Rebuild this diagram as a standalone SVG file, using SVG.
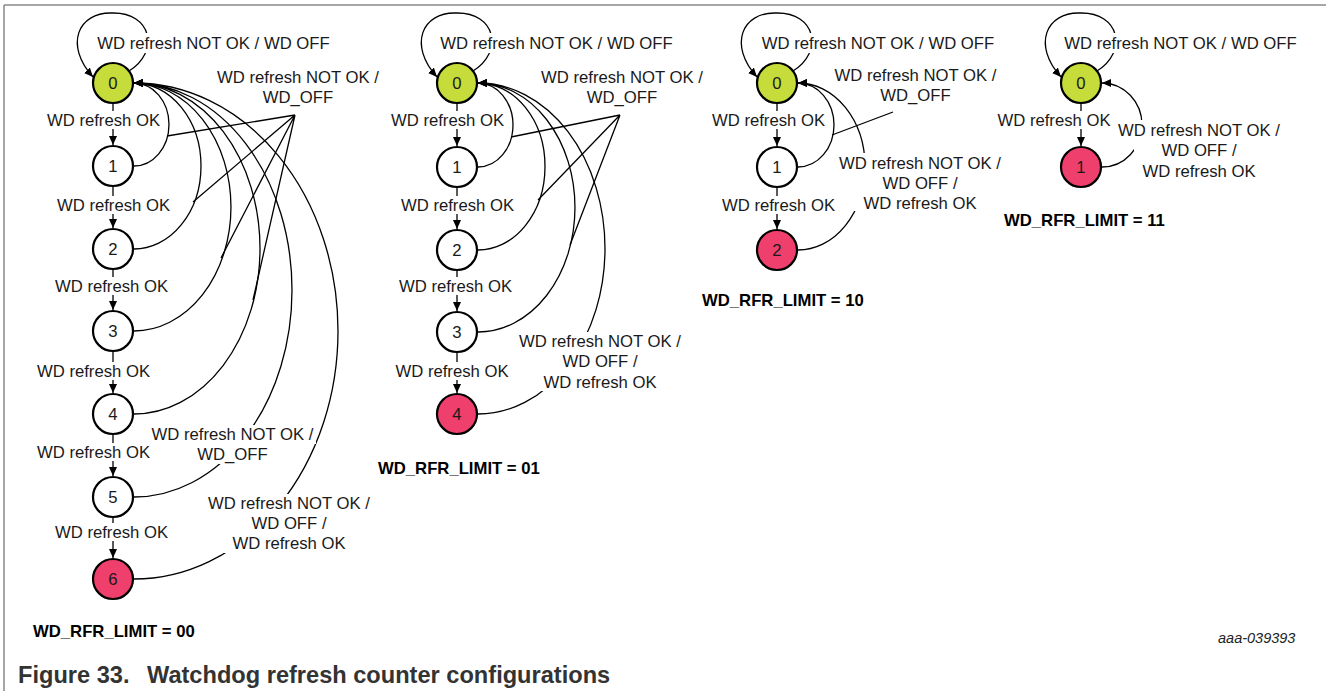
<svg xmlns="http://www.w3.org/2000/svg" width="1326" height="691" viewBox="0 0 1326 691">
<defs>
<marker id="ah" markerWidth="9" markerHeight="8" refX="9" refY="4" orient="auto" markerUnits="userSpaceOnUse"><path d="M0,0 L9,4 L0,8 z" fill="#000"/></marker>
</defs>
<style>
.t{font-family:"Liberation Sans",Arial,sans-serif;font-size:16.7px;fill:#1a1a1a;text-anchor:middle}
.b{font-weight:bold;text-anchor:start;fill:#000}
.c{fill:none;stroke:#000;stroke-width:1.3}
.a{marker-end:url(#ah)}
.bg{fill:#fff}
.n{stroke:#000;stroke-width:2.2;fill:#fff}
.g{fill:#c5dc3a}
.r{fill:#ef3f6c}
.cap{font-family:"Liberation Sans",Arial,sans-serif;font-size:23.6px;font-weight:bold;fill:#333}
.id{font-family:"Liberation Sans",Arial,sans-serif;font-size:14.5px;font-style:italic;fill:#222}
</style>
<rect width="1326" height="691" fill="#fff"/>
<path d="M4 5 H1326 M4 5 V691" stroke="#8a8a8a" stroke-width="1.5" fill="none"/>

<g id="connectors">
  <!-- Diagram 00 -->
  <path class="c a" d="M129 71 C160 52 152 12 112 13 C78 12 64 45 93 77"/>
  <path class="c a" d="M113 104 V145"/>
  <path class="c a" d="M113 187 V228"/>
  <path class="c a" d="M113 270 V310"/>
  <path class="c a" d="M113 352 V393"/>
  <path class="c a" d="M113 435 V476"/>
  <path class="c a" d="M113 518 V558"/>
  <path class="c a" d="M134 166 A35 41.5 0 0 0 134 83"/>
  <path class="c a" d="M134 249 A67 83 0 0 0 134 83"/>
  <path class="c a" d="M134 331 A97 124 0 0 0 134 83"/>
  <path class="c a" d="M134 414 A126 165.5 0 0 0 134 83"/>
  <path class="c a" d="M134 497 A158 207 0 0 0 134 83"/>
  <path class="c a" d="M134 579 A204 248 0 0 0 134 83"/>
  <path class="c" d="M295 115 L167 136 M295 115 L193 202 M295 115 L221 258 M295 115 L253 300"/>
  <!-- Diagram 01 -->
  <path class="c a" d="M473 71 C504 52 496 12 456 13 C422 12 408 45 437 77"/>
  <path class="c a" d="M457 104 V146"/>
  <path class="c a" d="M457 188 V229"/>
  <path class="c a" d="M457 271 V311"/>
  <path class="c a" d="M457 353 V393"/>
  <path class="c a" d="M478 167 A35 42 0 0 0 478 83"/>
  <path class="c a" d="M478 250 A67 83.5 0 0 0 478 83"/>
  <path class="c a" d="M478 332 A97 124.5 0 0 0 478 83"/>
  <path class="c a" d="M478 414 A127 165.5 0 0 0 478 83"/>
  <path class="c" d="M620 115 L511 137 M620 115 L538 200 M620 115 L570 245"/>
  <!-- Diagram 10 -->
  <path class="c a" d="M793 71 C824 52 816 12 776 13 C742 12 728 45 757 77"/>
  <path class="c a" d="M777 104 V146"/>
  <path class="c a" d="M777 188 V229"/>
  <path class="c a" d="M798 167 A36 42 0 0 0 798 83"/>
  <path class="c a" d="M798 250 A67 83.5 0 0 0 798 83"/>
  <path class="c" d="M893 112 L832 135"/>
  <!-- Diagram 11 -->
  <path class="c a" d="M1097 71 C1128 52 1120 12 1080 13 C1046 12 1032 45 1061 77"/>
  <path class="c a" d="M1081 104 V146"/>
  <path class="c a" d="M1102 167 A40 42 0 0 0 1102 83"/>
</g>

<g id="labels">
  <!-- Diagram 00 -->
  <rect class="bg" x="95" y="33" width="237" height="20"/>
  <text class="t" x="213.5" y="49">WD refresh NOT OK / WD OFF</text>
  <rect class="bg" x="215" y="68" width="166" height="18"/>
  <rect class="bg" x="261" y="87" width="74" height="19"/>
  <text class="t" x="298" y="83">WD refresh NOT OK /</text>
  <text class="t" x="298" y="103">WD_OFF</text>
  <rect class="bg" x="45" y="111" width="117" height="18"/>
  <text class="t" x="103.5" y="126">WD refresh OK</text>
  <rect class="bg" x="55" y="196" width="117" height="18"/>
  <text class="t" x="113.5" y="211">WD refresh OK</text>
  <rect class="bg" x="53" y="277" width="117" height="18"/>
  <text class="t" x="111.5" y="292">WD refresh OK</text>
  <rect class="bg" x="35" y="362" width="117" height="18"/>
  <text class="t" x="93.5" y="377">WD refresh OK</text>
  <rect class="bg" x="35" y="443" width="117" height="18"/>
  <text class="t" x="93.5" y="458">WD refresh OK</text>
  <rect class="bg" x="53" y="523" width="117" height="18"/>
  <text class="t" x="111.5" y="538">WD refresh OK</text>
  <rect class="bg" x="150" y="425" width="166" height="19"/>
  <rect class="bg" x="195" y="444" width="75" height="20"/>
  <text class="t" x="232.5" y="440">WD refresh NOT OK /</text>
  <text class="t" x="232.5" y="460">WD_OFF</text>
  <rect class="bg" x="206" y="494" width="166" height="59"/>
  <text class="t" x="289" y="509">WD refresh NOT OK /</text>
  <text class="t" x="289" y="529">WD OFF /</text>
  <text class="t" x="289" y="549">WD refresh OK</text>
  <!-- Diagram 01 -->
  <rect class="bg" x="438" y="33" width="237" height="20"/>
  <text class="t" x="556.5" y="49">WD refresh NOT OK / WD OFF</text>
  <rect class="bg" x="539" y="68" width="166" height="18"/>
  <rect class="bg" x="585" y="87" width="74" height="19"/>
  <text class="t" x="622" y="83">WD refresh NOT OK /</text>
  <text class="t" x="622" y="103">WD_OFF</text>
  <rect class="bg" x="389" y="111" width="117" height="18"/>
  <text class="t" x="447.5" y="126">WD refresh OK</text>
  <rect class="bg" x="399" y="196" width="117" height="18"/>
  <text class="t" x="457.5" y="211">WD refresh OK</text>
  <rect class="bg" x="397" y="277" width="117" height="18"/>
  <text class="t" x="455.5" y="292">WD refresh OK</text>
  <rect class="bg" x="394" y="362" width="117" height="18"/>
  <text class="t" x="452" y="377">WD refresh OK</text>
  <rect class="bg" x="517" y="332" width="166" height="59"/>
  <text class="t" x="600" y="347">WD refresh NOT OK /</text>
  <text class="t" x="600" y="367">WD OFF /</text>
  <text class="t" x="600" y="388">WD refresh OK</text>
  <!-- Diagram 10 -->
  <rect class="bg" x="759" y="33" width="237" height="20"/>
  <text class="t" x="878" y="49">WD refresh NOT OK / WD OFF</text>
  <rect class="bg" x="832" y="66" width="166" height="18"/>
  <rect class="bg" x="879" y="85" width="74" height="19"/>
  <text class="t" x="915.5" y="81">WD refresh NOT OK /</text>
  <text class="t" x="915.5" y="101">WD_OFF</text>
  <rect class="bg" x="710" y="111" width="117" height="18"/>
  <text class="t" x="768.5" y="126">WD refresh OK</text>
  <rect class="bg" x="720" y="196" width="117" height="18"/>
  <text class="t" x="778.5" y="211">WD refresh OK</text>
  <rect class="bg" x="837" y="153" width="166" height="58"/>
  <text class="t" x="920" y="169">WD refresh NOT OK /</text>
  <text class="t" x="920" y="189">WD OFF /</text>
  <text class="t" x="920" y="209">WD refresh OK</text>
  <!-- Diagram 11 -->
  <rect class="bg" x="1062" y="33" width="237" height="20"/>
  <text class="t" x="1180.5" y="49">WD refresh NOT OK / WD OFF</text>
  <rect class="bg" x="995" y="111" width="117" height="18"/>
  <text class="t" x="1054" y="126">WD refresh OK</text>
  <rect class="bg" x="1116" y="120" width="166" height="21"/>
  <rect class="bg" x="1134" y="141" width="128" height="40"/>
  <text class="t" x="1199" y="136">WD refresh NOT OK /</text>
  <text class="t" x="1199" y="156">WD OFF /</text>
  <text class="t" x="1199" y="177">WD refresh OK</text>
</g>

<g id="d00-s0"><circle class="n g" cx="113" cy="83" r="20"/><text class="t" x="113" y="89">0</text></g>
<g id="d00-s1"><circle class="n" cx="113" cy="166" r="20"/><text class="t" x="113" y="172">1</text></g>
<g id="d00-s2"><circle class="n" cx="113" cy="249" r="20"/><text class="t" x="113" y="255">2</text></g>
<g id="d00-s3"><circle class="n" cx="113" cy="331" r="20"/><text class="t" x="113" y="337">3</text></g>
<g id="d00-s4"><circle class="n" cx="113" cy="414" r="20"/><text class="t" x="113" y="420">4</text></g>
<g id="d00-s5"><circle class="n" cx="113" cy="497" r="20"/><text class="t" x="113" y="503">5</text></g>
<g id="d00-s6"><circle class="n r" cx="113" cy="579" r="20"/><text class="t" x="113" y="585">6</text></g>

<g id="d01-s0"><circle class="n g" cx="457" cy="83" r="20"/><text class="t" x="457" y="89">0</text></g>
<g id="d01-s1"><circle class="n" cx="457" cy="167" r="20"/><text class="t" x="457" y="173">1</text></g>
<g id="d01-s2"><circle class="n" cx="457" cy="250" r="20"/><text class="t" x="457" y="256">2</text></g>
<g id="d01-s3"><circle class="n" cx="457" cy="332" r="20"/><text class="t" x="457" y="338">3</text></g>
<g id="d01-s4"><circle class="n r" cx="457" cy="414" r="20"/><text class="t" x="457" y="420">4</text></g>

<g id="d10-s0"><circle class="n g" cx="777" cy="83" r="20"/><text class="t" x="777" y="89">0</text></g>
<g id="d10-s1"><circle class="n" cx="777" cy="167" r="20"/><text class="t" x="777" y="173">1</text></g>
<g id="d10-s2"><circle class="n r" cx="777" cy="250" r="20"/><text class="t" x="777" y="256">2</text></g>

<g id="d11-s0"><circle class="n g" cx="1081" cy="83" r="20"/><text class="t" x="1081" y="89">0</text></g>
<g id="d11-s1"><circle class="n r" cx="1081" cy="167" r="20"/><text class="t" x="1081" y="173">1</text></g>

<g id="titles">
  <text class="t b" x="33" y="637">WD_RFR_LIMIT = 00</text>
  <text class="t b" x="378" y="474">WD_RFR_LIMIT = 01</text>
  <text class="t b" x="702" y="306">WD_RFR_LIMIT = 10</text>
  <text class="t b" x="1004" y="226">WD_RFR_LIMIT = 11</text>
  <text class="id" x="1218" y="643">aaa-039393</text>
  <text class="cap" y="683"><tspan x="18">Figure 33.</tspan><tspan x="147">Watchdog refresh counter configurations</tspan></text>
</g>
</svg>
